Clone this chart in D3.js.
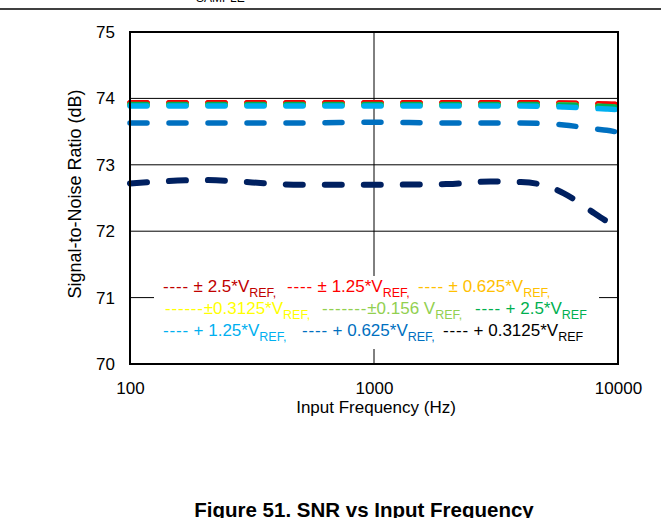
<!DOCTYPE html>
<html>
<head>
<meta charset="utf-8">
<script src="https://cdn.jsdelivr.net/npm/d3@7"></script>
<style>
  html, body { margin: 0; padding: 0; background: #fff; }
  svg { display: block; }
  text { font-family: Arial, "Liberation Sans", sans-serif; }
</style>
</head>
<body>
<div id="chart"></div>
<script>
// ---- data ----
const frequencies = [100, 200, 500, 1000, 2000, 3000, 4000, 5000, 6000, 7000, 8000, 9000, 10000];
const snrPm2p5    = [73.935, 73.935, 73.935, 73.935, 73.935, 73.935, 73.935, 73.935, 73.93, 73.925, 73.92, 73.915, 73.91];
const snrPm1p25   = [73.93, 73.93, 73.93, 73.93, 73.93, 73.93, 73.93, 73.93, 73.925, 73.92, 73.915, 73.91, 73.905];
const snrPm0p625  = [73.9, 73.9, 73.9, 73.9, 73.9, 73.9, 73.9, 73.9, 73.895, 73.89, 73.88, 73.87, 73.86];
const snrPm0p3125 = [73.9, 73.9, 73.9, 73.9, 73.9, 73.9, 73.9, 73.9, 73.895, 73.89, 73.88, 73.87, 73.86];
const snrPm0p156  = [73.9, 73.9, 73.9, 73.9, 73.9, 73.9, 73.9, 73.9, 73.895, 73.89, 73.88, 73.87, 73.86];
const snrP2p5     = [73.908, 73.908, 73.908, 73.908, 73.908, 73.908, 73.908, 73.905, 73.9, 73.893, 73.885, 73.877, 73.87];
const snrP1p25    = [73.885, 73.885, 73.885, 73.885, 73.885, 73.885, 73.885, 73.88, 73.87, 73.86, 73.85, 73.84, 73.83];
const snrP0p625   = [73.63, 73.63, 73.63, 73.64, 73.63, 73.63, 73.63, 73.62, 73.60, 73.57, 73.54, 73.52, 73.49];
const snrP0p3125  = [72.72, 72.77, 72.70, 72.70, 72.71, 72.75, 72.74, 72.69, 72.57, 72.42, 72.27, 72.15, 72.06];

const seriesNames = [" ± 2.5*V", " ± 1.25*V", " ± 0.625*V", "±0.3125*V", "±0.156 V", " + 2.5*V", " + 1.25*V", " + 0.625*V", " + 0.3125*V"];
const seriesDashes = ["----", "----", "----", "------", "-------", "----", "----", "----", "----"];
const seriesSubs = ["REF,", "REF,", "REF,", "REF,", "REF,", "REF", "REF,", "REF,", "REF"];
const seriesColors = ["#d20000", "#ff0000", "#ffc000", "#ffff00", "#92d050", "#00b050", "#00b0f0", "#0070c0", "#002060"];
const legendTextColors = ["#c00000", "#ff0000", "#ffc000", "#ffff00", "#92d050", "#00b050", "#00b0f0", "#0070c0", "#000000"];
const seriesValues = [snrPm2p5, snrPm1p25, snrPm0p625, snrPm0p3125, snrPm0p156, snrP2p5, snrP1p25, snrP0p625, snrP0p3125];

const yTicks = [70, 71, 72, 73, 74, 75];
const xTicks = [100, 1000, 10000];
const xTitle = "Input Frequency (Hz)";
const yTitle = "Signal-to-Noise Ratio (dB)";
const figTitle = "Figure 51. SNR vs Input Frequency";

// ---- layout ----
const W = 661, H = 518;
const plot = { left: 130, right: 618, top: 32, bottom: 364 };

const svg = d3.select("#chart").append("svg").attr("width", W).attr("height", H);

// header remnants
svg.append("line").attr("x1", 0).attr("x2", W).attr("y1", 9).attr("y2", 9)
  .attr("stroke", "#000").attr("stroke-width", 1.5);
svg.append("text").attr("x", 196).attr("y", 2).attr("font-size", 12).attr("fill", "#000").text("SAMPLE");

const x = d3.scaleLog().domain([100, 10000]).range([plot.left, plot.right]);
const y = d3.scaleLinear().domain([70, 75]).range([plot.bottom, plot.top]);

// gridlines
svg.append("g").selectAll("line").data(yTicks.filter(d => d > 70 && d < 75)).join("line")
  .attr("x1", plot.left).attr("x2", plot.right)
  .attr("y1", d => y(d)).attr("y2", d => y(d))
  .attr("stroke", "#000").attr("stroke-width", 1);
svg.append("line").attr("x1", x(1000)).attr("x2", x(1000))
  .attr("y1", plot.top).attr("y2", plot.bottom)
  .attr("stroke", "#000").attr("stroke-width", 1);

// series
const line = d3.line().x((d, i) => x(frequencies[i])).y(d => y(d)).curve(d3.curveMonotoneX);
svg.append("g").selectAll("path").data(seriesValues).join("path")
  .attr("d", d => line(d))
  .attr("fill", "none")
  .attr("stroke", (d, i) => seriesColors[i])
  .attr("stroke-width", (d, i) => i === 8 ? 6 : 5.5)
  .attr("stroke-linecap", "round")
  .attr("stroke-dasharray", "17 22");

// legend background
svg.append("rect").attr("x", 154).attr("y", 276).attr("width", 445).attr("height", 73).attr("fill", "#fff");

const legendPos = [[163, 292], [287, 292], [418, 292], [165, 314], [322, 314], [475, 314], [163, 336], [302, 336], [443, 336]];
const lg = svg.append("g");
seriesNames.forEach((name, i) => {
  const t = lg.append("text").attr("x", legendPos[i][0]).attr("y", legendPos[i][1])
    .attr("font-size", 17).attr("fill", legendTextColors[i]);
  t.append("tspan").attr("letter-spacing", 0.8).text(seriesDashes[i]);
  t.append("tspan").text(name);
  t.append("tspan").attr("font-size", 12.5).attr("dy", 5).text(seriesSubs[i]);
});

// frame
svg.append("rect").attr("x", plot.left).attr("y", plot.top)
  .attr("width", plot.right - plot.left).attr("height", plot.bottom - plot.top)
  .attr("fill", "none").attr("stroke", "#000").attr("stroke-width", 2);

// axes labels
const yAxis = d3.axisLeft(y).tickValues(yTicks).tickSize(0).tickPadding(15).tickFormat(d3.format("d"));
const ya = svg.append("g").attr("transform", `translate(${plot.left},0)`).call(yAxis);
ya.select(".domain").remove();
ya.selectAll("text").attr("font-size", 17).attr("font-family", "Arial, 'Liberation Sans', sans-serif").attr("fill", "#000");

const xAxis = d3.axisBottom(x).tickValues(xTicks).tickSize(0).tickPadding(18).tickFormat(d3.format("d"));
const xa = svg.append("g").attr("transform", `translate(0,${plot.bottom})`).call(xAxis);
xa.select(".domain").remove();
xa.selectAll("text").attr("font-size", 17).attr("font-family", "Arial, 'Liberation Sans', sans-serif").attr("fill", "#000");

svg.append("text").attr("x", 376).attr("y", 413).attr("text-anchor", "middle")
  .attr("font-size", 17).text(xTitle);
svg.append("text").attr("transform", `translate(81,${194}) rotate(-90)`).attr("text-anchor", "middle")
  .attr("font-size", 18).text(yTitle);

svg.append("text").attr("x", 364).attr("y", 517).attr("text-anchor", "middle")
  .attr("font-size", 20.5).attr("font-weight", "bold").text(figTitle);
</script>
</body>
</html>
